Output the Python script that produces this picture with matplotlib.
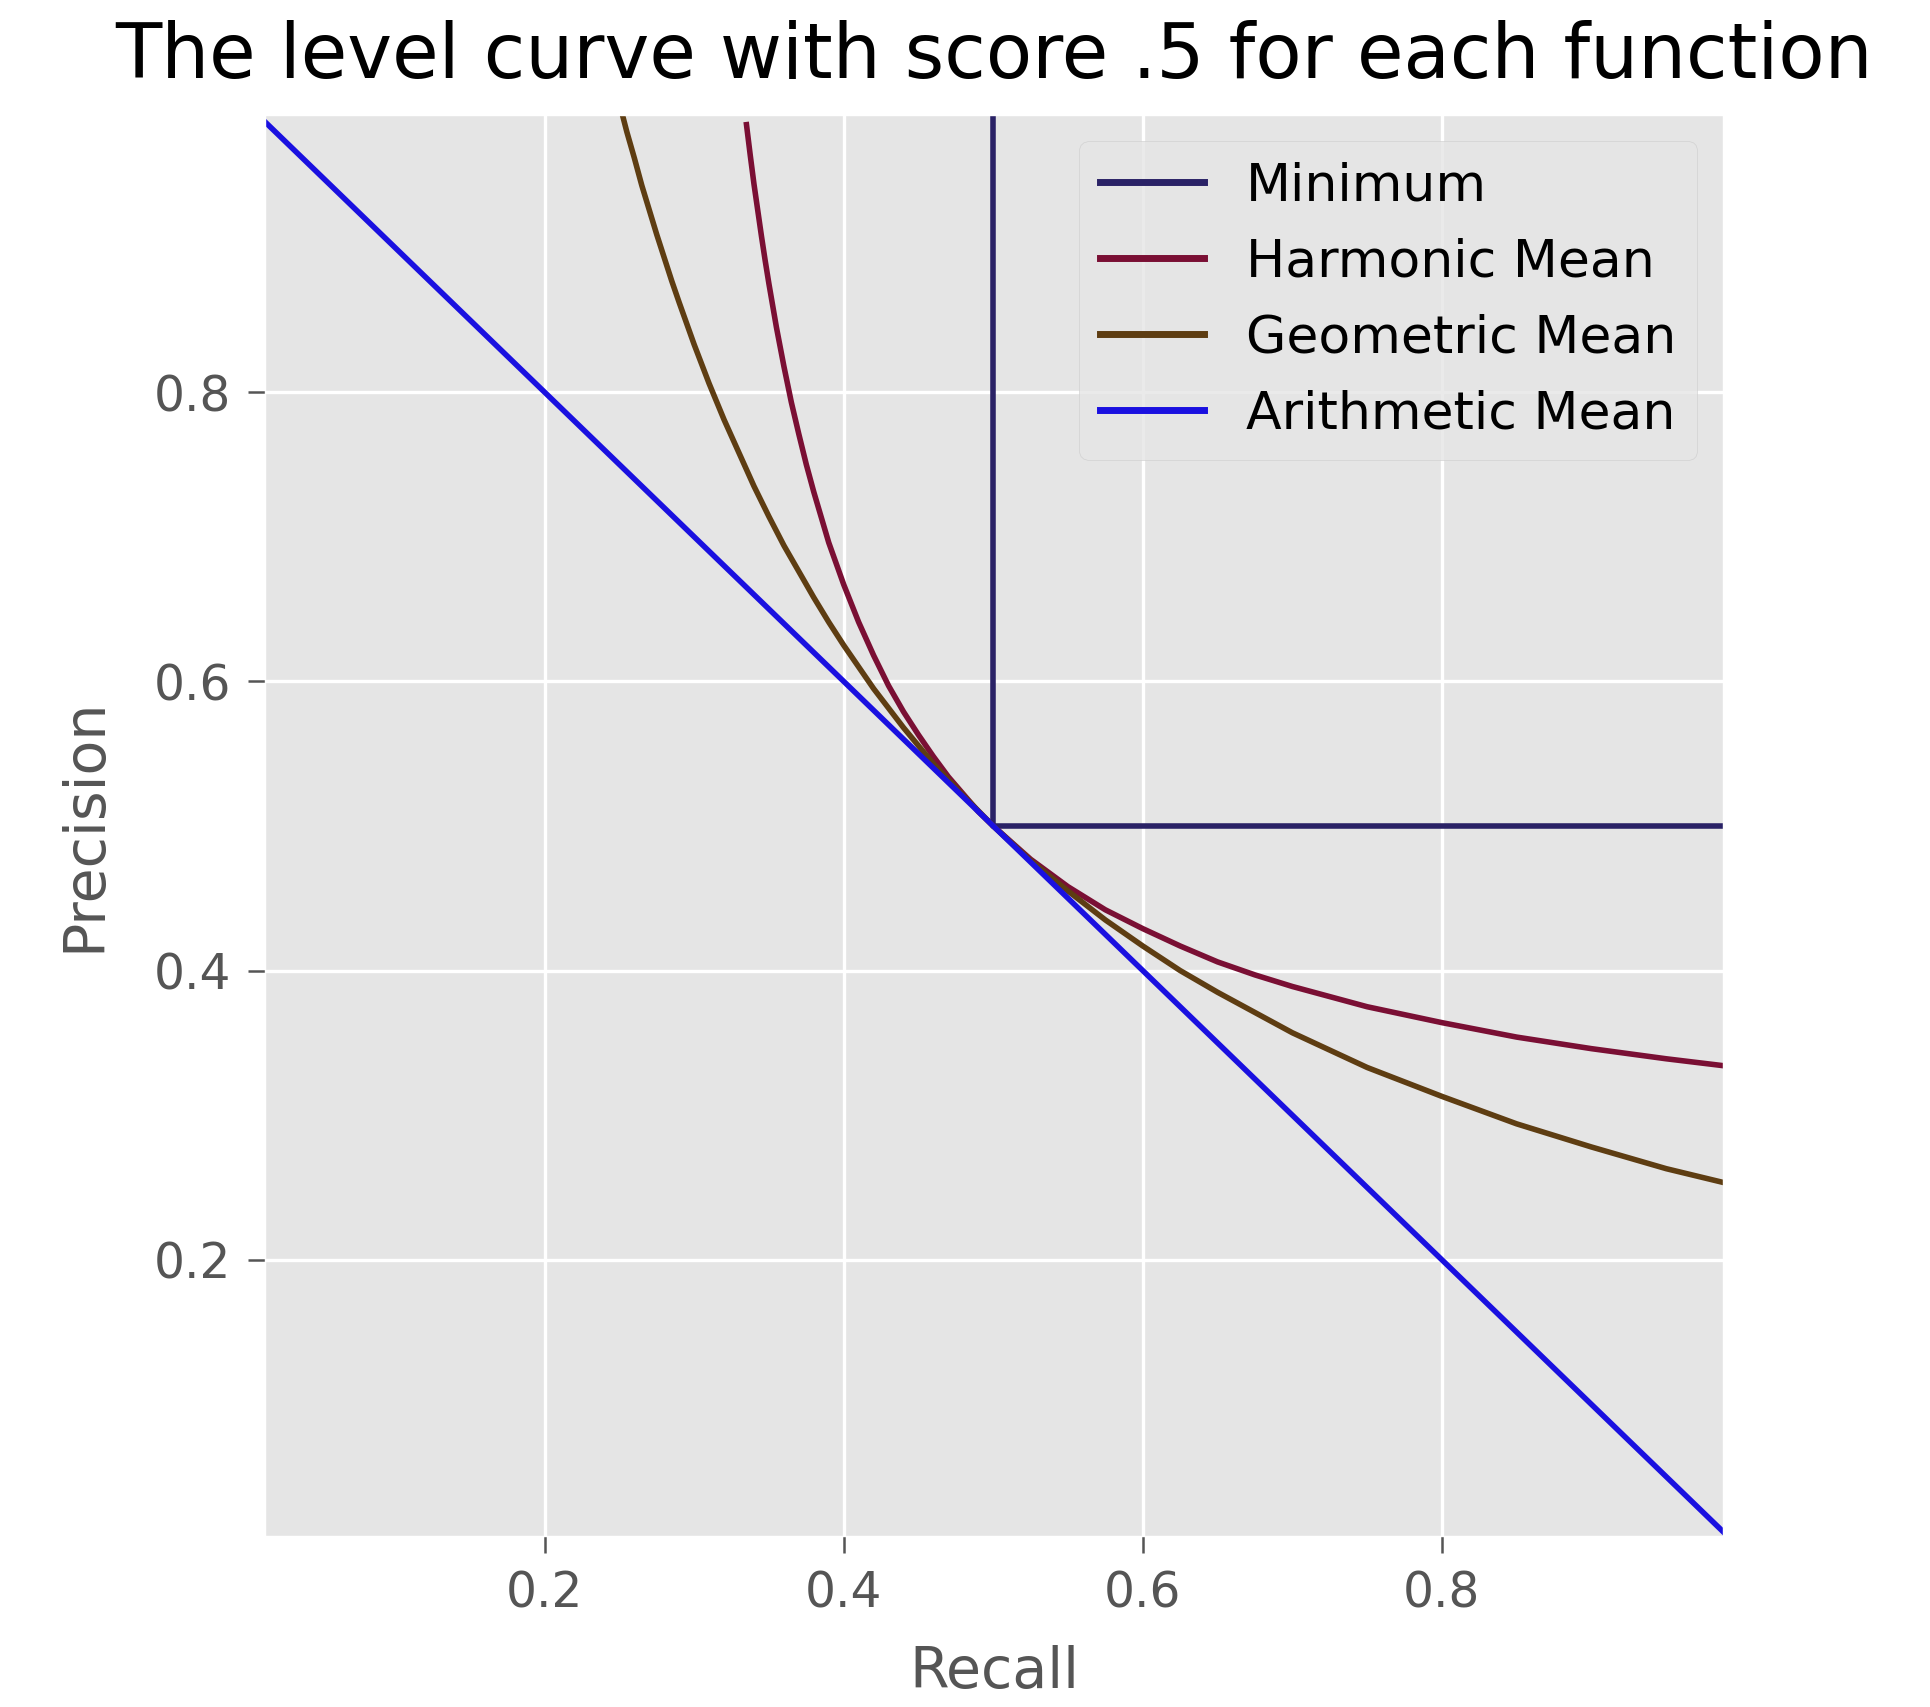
import matplotlib
matplotlib.use('Agg')
import matplotlib.pyplot as plt

# level curves (score = .5)
min_recall = [0.5, 0.5, 0.99]
min_precision = [0.995, 0.5, 0.5]

harm_recall = [0.335, 0.3375, 0.34, 0.3425, 0.345, 0.3475, 0.35, 0.355, 0.36, 0.365,
               0.37, 0.375, 0.38, 0.39, 0.40, 0.41, 0.42, 0.43, 0.44, 0.45,
               0.46, 0.47, 0.48, 0.49, 0.50, 0.525, 0.55, 0.575, 0.60, 0.625,
               0.65, 0.675, 0.70, 0.75, 0.80, 0.85, 0.90, 0.95, 0.99]
harm_precision = [0.985, 0.964, 0.944, 0.926, 0.908, 0.891, 0.875, 0.845, 0.818, 0.793,
                  0.771, 0.750, 0.731, 0.696, 0.667, 0.641, 0.618, 0.597, 0.579, 0.563,
                  0.548, 0.534, 0.522, 0.510, 0.500, 0.477, 0.458, 0.442, 0.429, 0.417,
                  0.406, 0.397, 0.389, 0.375, 0.364, 0.354, 0.346, 0.339, 0.334]

geom_recall = [0.2525, 0.255, 0.26, 0.265, 0.27, 0.275, 0.28, 0.285, 0.29, 0.30,
               0.31, 0.32, 0.33, 0.34, 0.35, 0.36, 0.37, 0.38, 0.39, 0.40,
               0.42, 0.44, 0.46, 0.48, 0.50, 0.525, 0.55, 0.575, 0.60, 0.625,
               0.65, 0.70, 0.75, 0.80, 0.85, 0.90, 0.95, 0.99]
geom_precision = [0.990, 0.980, 0.962, 0.943, 0.926, 0.909, 0.893, 0.877, 0.862, 0.833,
                  0.806, 0.781, 0.758, 0.735, 0.714, 0.694, 0.676, 0.658, 0.641, 0.625,
                  0.595, 0.568, 0.543, 0.521, 0.500, 0.476, 0.455, 0.435, 0.417, 0.400,
                  0.385, 0.357, 0.333, 0.313, 0.294, 0.278, 0.263, 0.253]

arith_recall = [0.005, 0.25, 0.5, 0.75, 0.99]
arith_precision = [0.995, 0.75, 0.5, 0.25, 0.01]

labels = ['Minimum', 'Harmonic Mean', 'Geometric Mean', 'Arithmetic Mean']
colors = ['#2a2266', '#7a0f34', '#5e3d12', '#1a10e0']
ticks = [0.2, 0.4, 0.6, 0.8]

plt.style.use('ggplot')

fig = plt.figure(figsize=(19.31, 17.07), dpi=100)
ax = fig.add_axes([0.1372, 0.1002, 0.7551, 0.8327])

lw = 4.0
ax.plot(min_recall, min_precision, color=colors[0], lw=lw, label=labels[0])
ax.plot(harm_recall, harm_precision, color=colors[1], lw=lw, label=labels[1])
ax.plot(geom_recall, geom_precision, color=colors[2], lw=lw, label=labels[2])
ax.plot(arith_recall, arith_precision, color=colors[3], lw=lw, label=labels[3])

ax.set_xlim(0.013, 0.988)
ax.set_ylim(0.009, 0.992)
ax.set_xticks(ticks)
ax.set_yticks(ticks)
ax.tick_params(labelsize=35, length=12, width=1.8, pad=12, colors='#555555')
ax.grid(True, color='white', linewidth=2.4)

ax.set_xlabel('Recall', fontsize=41, color='#555555', labelpad=20)
ax.set_ylabel('Precision', fontsize=41, color='#555555', labelpad=30)
ax.set_title('The level curve with score .5 for each function', fontsize=54.5, pad=26)

leg = ax.legend(loc='upper right', fontsize=37.5, handlelength=2.0,
                borderaxespad=0.5, framealpha=0.8)
for line in leg.get_lines():
    line.set_linewidth(lw * 1.25)

fig.savefig('out.png', dpi=100)
